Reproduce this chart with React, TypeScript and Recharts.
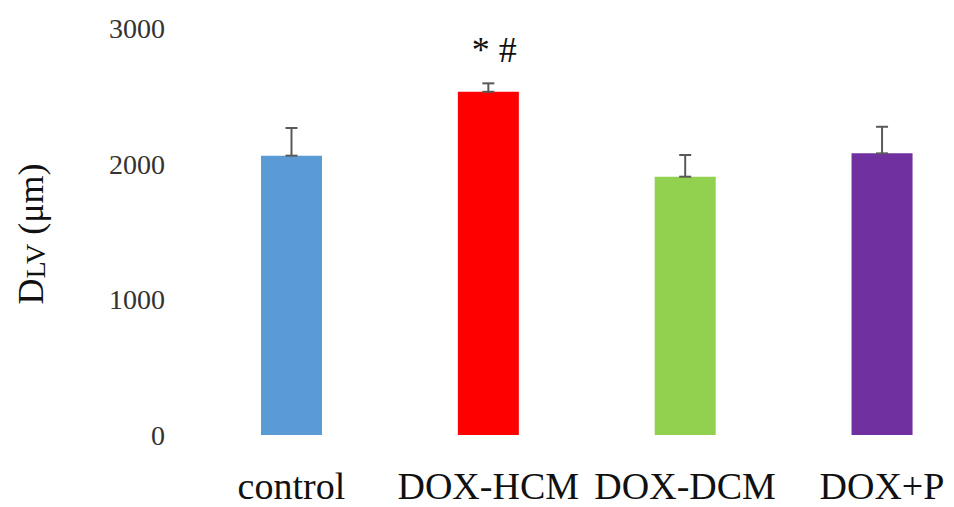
import { BarChart, Bar, XAxis, YAxis, Cell, ErrorBar, LabelList } from "recharts";

const groups = ["control", "DOX-HCM", "DOX-DCM", "DOX+P"];
const means = [2059, 2530, 1904, 2076];
const sds = [204, 62, 160, 196];
const marks = ["", "* #", "", ""];
const colors = ["#5B9BD5", "#FF0000", "#92D050", "#7030A0"];
const yTicks = [0, 1000, 2000, 3000];

const serif = "'Liberation Serif', 'Times New Roman', serif";

const data = groups.map((g, i) => ({ group: g, mean: means[i], err: [0, sds[i]], mark: marks[i] }));

function XTick({ x, y, payload }: any) {
  return (
    <text x={x} y={y} dy={64} textAnchor="middle" fontFamily={serif} fontSize={38} fill="#111">
      {payload.value}
    </text>
  );
}

function YTick({ x, y, payload }: any) {
  return (
    <text x={x} y={y} dy={10} textAnchor="end" fontFamily={serif} fontSize={28} fill="#333">
      {payload.value}
    </text>
  );
}

function YTitle() {
  return (
    <text transform="translate(35, 226) rotate(-90)" textAnchor="middle" fontFamily={serif} fontSize={36} fill="#111">
      D<tspan fontSize={28} dy={2}>LV</tspan>
      <tspan dy={-2}> (μm)</tspan>
    </text>
  );
}

function MarkLabel({ x, y, width, value }: any) {
  if (!value) return null;
  return (
    <text x={x + width / 2 + 6} y={y - 30} textAnchor="middle" fontFamily={serif} fontSize={36} fill="#111">
      {value}
    </text>
  );
}

export default function App() {
  return (
    <div style={{ width: 946, height: 499, overflow: "hidden", background: "#fff" }}>
      <BarChart width={980} height={499} data={data} margin={{ top: 20, right: 7.6, bottom: 0, left: 0 }}>
        <XAxis
          dataKey="group"
          height={72}
          axisLine={false}
          tickLine={false}
          tickSize={0}
          tickMargin={0}
          tick={<XTick />}
          interval={0}
        />
        <YAxis
          domain={[0, 3000]}
          ticks={yTicks}
          width={185}
          axisLine={false}
          tickLine={false}
          tickSize={0}
          tickMargin={28}
          tick={<YTick />}
          label={<YTitle />}
        />
        <Bar dataKey="mean" barSize={61} isAnimationActive={false}>
          {data.map((d, i) => (
            <Cell key={d.group} fill={colors[i]} />
          ))}
          <ErrorBar dataKey="err" width={6} stroke="#595959" strokeWidth={2} />
          <LabelList dataKey="mark" content={<MarkLabel />} />
        </Bar>
      </BarChart>
    </div>
  );
}
